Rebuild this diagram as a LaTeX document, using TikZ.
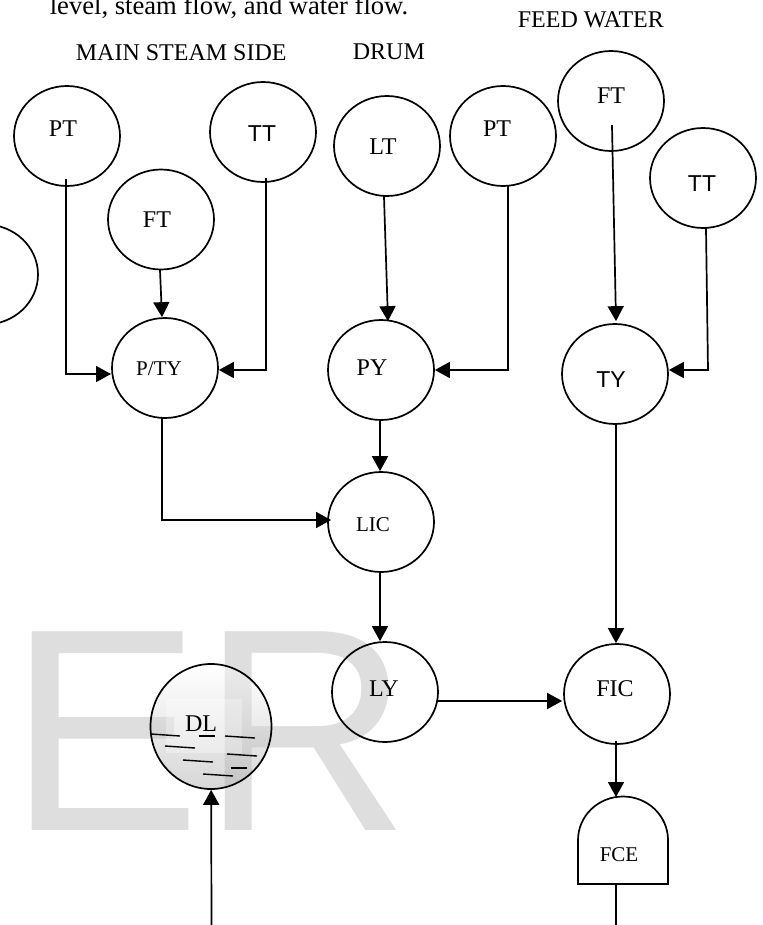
\documentclass[tikz,border=0pt]{standalone}
\usepackage{fontspec}
\setmainfont{Liberation Serif}
\newfontfamily\arialfont{Liberation Sans}
\usetikzlibrary{
  arrows.meta,
  shapes.geometric,
  chains,
  scopes,
  positioning
}
% text moved off the middle of its circle: right, up, text
\newcommand{\offtext}[3]{\raisebox{#2}[0pt][0pt]{\kern#1 #3\kern-#1}}
\begin{document}
\begin{tikzpicture}[
      x=1pt,y=-1pt,
      instr/.style={
         ellipse,
         draw,
         inner sep=0pt,
         minimum width=106pt,
         minimum height=100pt,
         font=\fontsize{24}{24}\selectfont
      },
      small text/.style={font=\fontsize{21}{21}\selectfont},
      sans text/.style={font=\arialfont\fontsize{23}{23}\selectfont},
      heading/.style={inner sep=0pt,anchor=base west,font=\fontsize{24}{24}\selectfont},
      point/.style={coordinate},>={Triangle[length=15pt,width=16pt]},line width=1.7pt,
      tip/.style={->},every join/.style={line cap=rect},
      hv path/.style={to path={-| (\tikztotarget)}},
      vh path/.style={to path={|- (\tikztotarget)}},
      water/.style={line width=1.4pt},
    ]
    \useasboundingbox (0,0) rectangle (762,925);
    % watermark
    \node (mark) [inner sep=0pt,anchor=base west,text=black!13,
      font=\arialfont\fontsize{289}{289}\selectfont] at (8,830) {ER};
    % headings
    \node (intro) [heading,font=\fontsize{26.6}{26.6}\selectfont] at (49,15) {level, steam flow, and water flow.};
    \node (steam) [heading] at (75,61) {MAIN STEAM SIDE};
    \node (drum) [heading] at (352,60) {DRUM};
    \node (feed) [heading] at (517,28) {FEED WATER};
    % instruments
    \node (side) [instr] at (-15,274.5) {};
    \node (pt1) [instr] at (67,136) {\offtext{-4pt}{-1pt}{PT}};
    \node (tt1) [instr,sans text] at (263,132) {\offtext{-1pt}{-10pt}{TT}};
    \node (ft1) [instr] at (161,219.5) {\offtext{-4pt}{-7.5pt}{FT}};
    \node (pty) [instr,small text] at (165,368) {\offtext{-6pt}{-7pt}{P/TY}};
    \node (lt) [instr] at (387,146) {\offtext{-4pt}{-9pt}{LT}};
    \node (pt2) [instr] at (503,136) {\offtext{-6pt}{-1pt}{PT}};
    \node (ft3) [instr] at (611,101) {\offtext{0pt}{-3pt}{FT}};
    \node (tt3) [instr,sans text] at (703,178) {\offtext{-1pt}{-14pt}{TT}};
    \node (py) [instr] at (381,370) {\offtext{-9pt}{-5pt}{PY}};
    \node (ty) [instr,sans text] at (615,374) {\offtext{-4pt}{-13pt}{TY}};
    \node (lic) [instr,small text] at (381,522) {\offtext{-8pt}{-9pt}{LIC}};
    \node (ly) [instr] at (385,692) {\offtext{-1pt}{-4pt}{LY}};
    \node (fic) [instr] at (617,694) {\offtext{-2pt}{-2pt}{FIC}};
    % drum level
    \node (dl) [instr,minimum width=121pt,minimum height=125pt,top color=white,
      bottom color=black!35,fill opacity=.45] at (211,726.5) {};
    \fill [white,opacity=.3] (166,699) rectangle (242,753);
    \node (dltext) [inner sep=0pt,anchor=base,font=\fontsize{24}{24}\selectfont] at (201,731) {DL};
    \draw [water] (151,734) -- (180,736);
    \draw [water] (199,736) -- (215,736);
    \draw [water] (225,736) -- (255,738);
    \draw [water] (165,746) -- (195,748);
    \draw [water] (227,754) -- (257,756);
    \draw [water] (183,760) -- (213,762);
    \draw [water] (231,768) -- (247,768);
    \draw [water] (203,774) -- (233,776);
    % final control element
    \node (fce) [inner sep=0pt,outer sep=0pt,minimum width=90pt,minimum height=87pt] at (623,840.5) {};
    \draw (fce.south west) -- ++(0,-44) arc [start angle=180,end angle=0,x radius=45pt,y radius=43.5pt] -- (fce.south east) -- cycle;
    \node (fcetext) [small text,inner sep=0pt,anchor=base] at (619,861) {FCE};
    % end points on the circles
    \node (pt1out) [point] at ([xshift=-1pt,yshift=7pt]pt1.south) {};
    \node (tt1out) [point] at ([xshift=3pt,yshift=4pt]tt1.south) {};
    \node (pt2out) [point] at ([xshift=5pt]pt2.south) {};
    \node (tt3out) [point] at ([xshift=3pt]tt3.south) {};
    \node (ft1out) [point] at ([xshift=-1pt]ft1.south) {};
    \node (ltout) [point] at ([xshift=-3pt]lt.south) {};
    \node (ft3out) [point] at (612,126) {};
    \node (ptyout) [point] at ([xshift=-3pt]pty.south) {};
    \node (pyout) [point] at ([xshift=-1pt]py.south) {};
    \node (licout) [point] at ([xshift=-1pt]lic.south) {};
    \node (lyout) [point] at ([yshift=-9pt]ly.east) {};
    \node (tyout) [point] at ([xshift=1pt]ty.south) {};
    \node (ficout) [point] at ([xshift=-1pt,yshift=3pt]fic.south) {};
    \node (ptyin1) [point] at (111,374) {};
    \node (ptyin2) [point] at ([yshift=-2pt]pty.east) {};
    \node (ptyin3) [point] at ([xshift=-3pt]pty.north) {};
    \node (pyin1) [point] at ([xshift=7pt,yshift=-2pt]py.north) {};
    \node (pyin2) [point] at (py.east) {};
    \node (tyin1) [point] at ([xshift=1pt,yshift=2pt]ty.north) {};
    \node (tyin2) [point] at ([yshift=4pt]ty.east) {};
    \node (licin1) [point] at ([xshift=-1pt]lic.north) {};
    \node (licin2) [point] at (331,520) {};
    \node (lyin) [point] at ([xshift=-5pt]ly.north) {};
    \node (ficin1) [point] at ([xshift=-1pt]fic.north) {};
    \node (ficin2) [point] at ([xshift=-1pt,yshift=-7pt]fic.west) {};
    \node (fcein) [point] at (616,797) {};
    \node (fceout) [point] at (616,884) {};
    \node (feedout) [point] at (616,925) {};
    \node (drumin) [point] at (211.5,925) {};
    % bends
    \node (p1) [point] at (66,374) {};
    \node (p2) [point] at (266,370) {};
    \node (p3) [point] at (508,370) {};
    \node (p4) [point] at (708,370) {};
  { [start chain]
       \chainin (pt1out);
       \chainin (p1)    [join];
       \chainin (ptyin1)    [join=by tip];
  }
  { [start chain]
       \chainin (ft1out);
       \chainin (ptyin3)    [join=by tip];
  }
  { [start chain]
       \chainin (tt1out);
       \chainin (p2)    [join];
       \chainin (ptyin2)    [join=by tip];
  }
  { [start chain]
       \chainin (ptyout);
       \chainin (licin2)    [join=by {vh path,tip}];
  }
  { [start chain]
       \chainin (ltout);
       \chainin (pyin1)    [join=by tip];
  }
  { [start chain]
       \chainin (pt2out);
       \chainin (p3)    [join];
       \chainin (pyin2)    [join=by tip];
  }
  { [start chain]
       \chainin (pyout);
       \chainin (licin1)    [join=by tip];
  }
  { [start chain]
       \chainin (licout);
       \chainin (lyin)    [join=by tip];
  }
  { [start chain]
       \chainin (lyout);
       \chainin (ficin2)    [join=by tip];
  }
  { [start chain]
       \chainin (ft3out);
       \chainin (tyin1)    [join=by tip];
  }
  { [start chain]
       \chainin (tt3out);
       \chainin (p4)    [join];
       \chainin (tyin2)    [join=by tip];
  }
  { [start chain]
       \chainin (tyout);
       \chainin (ficin1)    [join=by tip];
  }
  { [start chain]
       \chainin (ficout);
       \chainin (fcein)    [join=by tip];
  }
  { [start chain]
       \chainin (fceout);
       \chainin (feedout)    [join];
  }
  { [start chain]
       \chainin (drumin);
       \chainin (dl)    [join=by tip];
  }
\end{tikzpicture}
\end{document}
